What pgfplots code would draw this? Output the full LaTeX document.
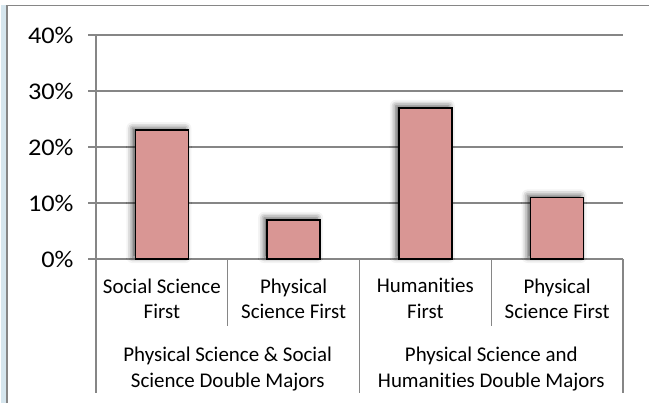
\documentclass[border=0pt]{standalone}
\usepackage{fontspec}
\setmainfont{Carlito}[Ligatures=NoCommon]
\newfontfamily\yfont{Carlito}[FakeStretch=1.1]
\usepackage{pgfplots}
\pgfplotsset{compat=1.18}
\usetikzlibrary{shadows.blur}
\definecolor{barfill}{RGB}{217,150,148}
\definecolor{gridgray}{RGB}{134,134,134}
\definecolor{frameblue}{RGB}{214,230,238}
\begin{document}
\begin{tikzpicture}[x=1bp,y=1bp]
\useasboundingbox (0,0) rectangle (649,406);
\fill[frameblue] (1,3) rectangle (6,401);
\draw[gridgray, line width=1.2bp] (7,3) -- (7,400.5) -- (649,400.5);
\begin{axis}[
  at={(96bp,147bp)}, anchor=south west,
  scale only axis, width=527bp, height=224bp,
  xmin=-0.5, xmax=3.5, ymin=0, ymax=40,
  axis x line*=bottom, axis y line*=left,
  axis line style={gridgray, line width=1.2bp, -},
  clip=false,
  ytick={0,10,20,30,40},
  yticklabel={\pgfmathprintnumber[assume math mode=true]{\tick}\%},
  ymajorgrids, grid style={gridgray, line width=1.2bp},
  tick align=outside, major tick length=8bp,
  ytick style={gridgray, line width=1.2bp},
  yticklabel style={font=\yfont\fontsize{24}{28}\selectfont, text=black, xshift=-11bp},
  xtick={0,1,2,3},
  xticklabels={{Social Science\\First},{Physical\\Science First},{Humanities\\First},{Physical\\Science First}},
  xtick style={draw=none},
  xticklabel style={align=center, font=\fontsize{21}{25.5}\selectfont, text=black, yshift=-8bp},
]
\addplot[ybar, bar width=53bp, fill=barfill, draw=black, line width=1.5bp,
  blur shadow={shadow xshift=-3bp, shadow yshift=2bp, shadow blur radius=6bp, shadow opacity=70}]
  coordinates {(0,23) (1,7) (2,27) (3,11)};
\draw[gridgray, line width=1.2bp] (axis cs:-0.5,0) -- ([yshift=-134bp]axis cs:-0.5,0);
\draw[gridgray, line width=1.2bp] (axis cs:1.5,0) -- ([yshift=-134bp]axis cs:1.5,0);
\draw[gridgray, line width=1.2bp] (axis cs:3.5,0) -- ([yshift=-134bp]axis cs:3.5,0);
\draw[gridgray, line width=1.2bp] (axis cs:0.5,0) -- ([yshift=-67bp]axis cs:0.5,0);
\draw[gridgray, line width=1.2bp] (axis cs:2.5,0) -- ([yshift=-67bp]axis cs:2.5,0);
\node[align=center, font=\fontsize{21}{25.5}\selectfont, yshift=-110bp] at (axis cs:0.5,0) {Physical Science \& Social\\Science Double Majors};
\node[align=center, font=\fontsize{21}{25.5}\selectfont, yshift=-110bp] at (axis cs:2.5,0) {Physical Science and\\Humanities Double Majors};
\end{axis}
\end{tikzpicture}
\end{document}
